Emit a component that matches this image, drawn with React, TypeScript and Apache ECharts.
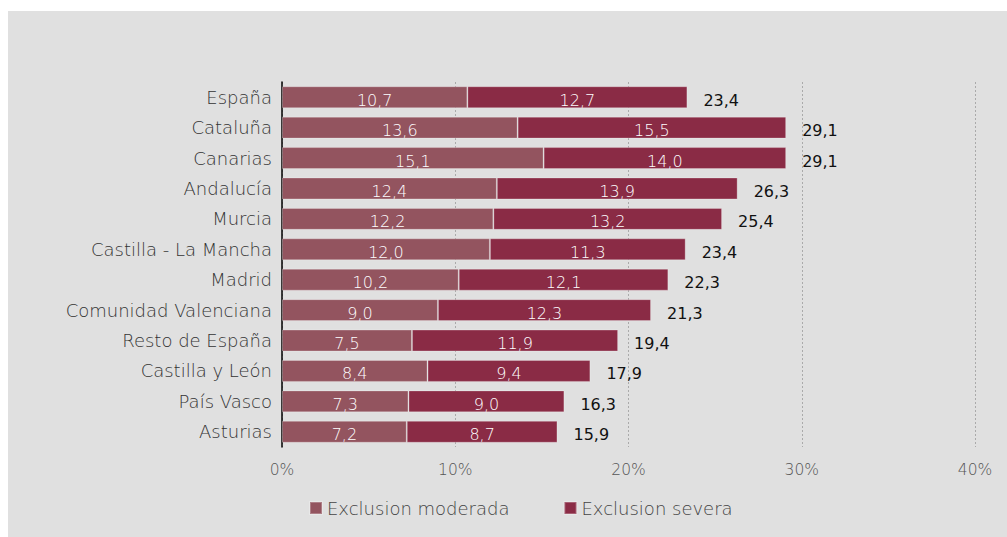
import React, { useEffect, useRef } from "react";
import * as echarts from "echarts";

const categories = [
  "España",
  "Cataluña",
  "Canarias",
  "Andalucía",
  "Murcia",
  "Castilla - La Mancha",
  "Madrid",
  "Comunidad Valenciana",
  "Resto de España",
  "Castilla y León",
  "País Vasco",
  "Asturias",
];
const moderada = [10.7, 13.6, 15.1, 12.4, 12.2, 12.0, 10.2, 9.0, 7.5, 8.4, 7.3, 7.2];
const severa = [12.7, 15.5, 14.0, 13.9, 13.2, 11.3, 12.1, 12.3, 11.9, 9.4, 9.0, 8.7];
const totals = [23.4, 29.1, 29.1, 26.3, 25.4, 23.4, 22.3, 21.3, 19.4, 17.9, 16.3, 15.9];
const xTicks = [0, 10, 20, 30, 40];

const FONT = "'DejaVu Sans', sans-serif";
const fmt = (v: number) => v.toFixed(1).replace(".", ",");

export default function App() {
  const ref = useRef<HTMLDivElement>(null);
  useEffect(() => {
    if (!ref.current) return;
    const chart = echarts.init(ref.current, null, { renderer: "svg" });
    chart.setOption({
      animation: false,
      backgroundColor: "#e0e0e0",
      textStyle: { fontFamily: FONT },
      grid: { left: 274, right: 32, top: 71, bottom: 90, containLabel: false },
      legend: {
        data: ["Exclusion moderada", "Exclusion severa"],
        left: 301,
        top: 488,
        padding: 0,
        itemWidth: 12,
        itemHeight: 12,
        itemGap: 54,
        icon: "rect",
        textStyle: { fontFamily: FONT, fontSize: 18, color: "#444", fontWeight: 200 },
      },
      xAxis: {
        type: "value",
        min: xTicks[0],
        max: xTicks[xTicks.length - 1],
        interval: 10,
        axisLine: { show: false },
        axisTick: { show: false },
        axisLabel: {
          formatter: "{value}%",
          color: "#555",
          fontSize: 15.5,
          margin: 15,
          fontFamily: FONT,
          fontWeight: 200,
        },
        splitLine: { show: true, lineStyle: { color: "#aaa", type: [2, 2], width: 1 } },
      },
      yAxis: {
        type: "category",
        data: categories,
        inverse: true,
        axisLine: { show: true, lineStyle: { color: "#000", width: 1.5 } },
        axisTick: { show: false },
        axisLabel: { color: "#333", fontSize: 18, margin: 10, fontFamily: FONT, fontWeight: 200 },
      },
      series: [
        {
          name: "Exclusion moderada",
          type: "bar",
          stack: "t",
          data: moderada,
          barCategoryGap: "28%",
          itemStyle: { color: "#93545f", borderColor: "rgba(255,255,255,0.25)", borderWidth: 1 },
          label: {
            show: true,
            position: "inside",
            color: "#fff",
            fontSize: 16,
            fontFamily: FONT,
            fontWeight: 200,
            offset: [0, 3],
            formatter: (p: any) => fmt(p.value),
          },
        },
        {
          name: "Exclusion severa",
          type: "bar",
          stack: "t",
          data: severa,
          itemStyle: { color: "#8a2b45", borderColor: "rgba(255,255,255,0.25)", borderWidth: 1 },
          label: {
            show: true,
            position: "inside",
            color: "#fff",
            fontSize: 16,
            fontFamily: FONT,
            fontWeight: 200,
            offset: [0, 3],
            formatter: (p: any) => fmt(p.value),
          },
        },
        {
          name: "Total",
          type: "bar",
          stack: "t",
          data: totals.map(() => 0),
          itemStyle: { color: "transparent" },
          label: {
            show: true,
            position: "right",
            distance: 16,
            offset: [0, 3],
            color: "#111",
            fontSize: 16,
            fontFamily: FONT,
            formatter: (p: any) => fmt(totals[p.dataIndex]),
          },
        },
      ],
    });
    return () => chart.dispose();
  }, []);
  return (
    <div
      ref={ref}
      style={{ position: "absolute", left: 8, top: 11, width: 999, height: 526 }}
    />
  );
}
